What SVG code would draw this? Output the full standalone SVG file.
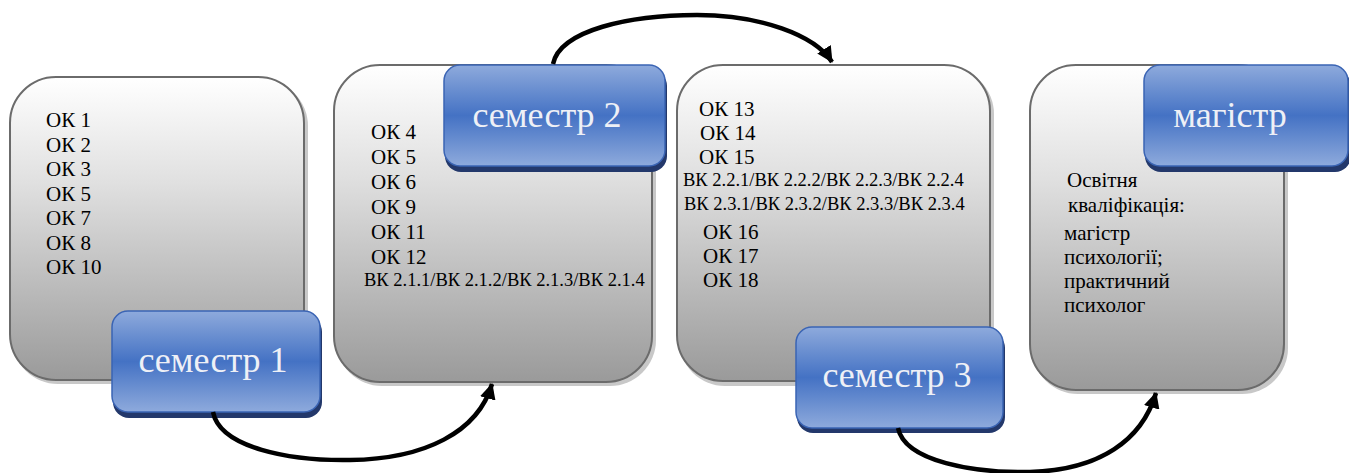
<svg xmlns="http://www.w3.org/2000/svg" width="1349" height="473" viewBox="0 0 1349 473">
<defs>
<linearGradient id="gBox" x1="0" y1="0" x2="0" y2="1">
<stop offset="0" stop-color="#ffffff"/>
<stop offset="0.35" stop-color="#e0e0e0"/>
<stop offset="1" stop-color="#9a9a9a"/>
</linearGradient>
<linearGradient id="gTab" x1="0" y1="0" x2="0" y2="1">
<stop offset="0" stop-color="#8eaadc"/>
<stop offset="0.5" stop-color="#4472c4"/>
<stop offset="1" stop-color="#8eaadc"/>
</linearGradient>
<marker id="arr" markerUnits="userSpaceOnUse" markerWidth="18" markerHeight="16" refX="15" refY="8" orient="auto">
<path d="M0,0 L16,8 L0,16 Z" fill="#000"/>
</marker>
</defs>
<style>
.box{fill:url(#gBox);stroke:#6b6b6b;stroke-width:2}
.bsh{fill:#c8c8c8}
.tab{fill:url(#gTab);stroke:#3a64b4;stroke-width:1.5}
.tsh{fill:#23386b}
.t{font-family:"Liberation Serif","Times New Roman",serif;font-size:21px;fill:#000}
.vk{font-family:"Liberation Serif","Times New Roman",serif;font-size:18.5px;fill:#000}
.tl{font-family:"Liberation Serif","Times New Roman",serif;font-size:36px;fill:#eef0f6;text-anchor:middle}
.con{fill:none;stroke:#000;stroke-width:4.5;marker-end:url(#arr)}
</style>

<g id="node-sem1">
<rect class="bsh" x="12" y="80" width="296" height="304" rx="46"/>
<rect class="box" x="10" y="77" width="294" height="303" rx="46"/>
<text class="t" x="46" y="127">ОК 1</text>
<text class="t" x="46" y="151.5">ОК 2</text>
<text class="t" x="46" y="176">ОК 3</text>
<text class="t" x="46" y="200.5">ОК 5</text>
<text class="t" x="46" y="225">ОК 7</text>
<text class="t" x="46" y="249.5">ОК 8</text>
<text class="t" x="46" y="274">ОК 10</text>
<rect class="tsh" x="113" y="316" width="209" height="102" rx="16"/>
<rect class="tab" x="112" y="311" width="208" height="101" rx="16"/>
<text class="tl" x="213" y="372">семестр 1</text>
</g>

<g id="node-sem2">
<rect class="bsh" x="336" y="68" width="320" height="318" rx="46"/>
<rect class="box" x="334" y="65" width="318" height="317" rx="46"/>
<text class="t" x="371" y="139">ОК 4</text>
<text class="t" x="371" y="164">ОК 5</text>
<text class="t" x="371" y="189">ОК 6</text>
<text class="t" x="371" y="214">ОК 9</text>
<text class="t" x="371" y="239">ОК 11</text>
<text class="t" x="371" y="264">ОК 12</text>
<text class="vk" x="364" y="286">ВК 2.1.1/ВК 2.1.2/ВК 2.1.3/ВК 2.1.4</text>
<rect class="tsh" x="445" y="70" width="222" height="102" rx="16"/>
<rect class="tab" x="444" y="65" width="221" height="101" rx="16"/>
<text class="tl" x="547" y="127">семестр 2</text>
</g>

<g id="node-sem3">
<rect class="bsh" x="679" y="68" width="315" height="318" rx="46"/>
<rect class="box" x="677" y="65" width="313" height="316" rx="46"/>
<text class="t" x="699" y="116">ОК 13</text>
<text class="t" x="700" y="140">ОК 14</text>
<text class="t" x="699" y="164">ОК 15</text>
<text class="vk" x="683" y="186">ВК 2.2.1/ВК 2.2.2/ВК 2.2.3/ВК 2.2.4</text>
<text class="vk" x="684" y="210">ВК 2.3.1/ВК 2.3.2/ВК 2.3.3/ВК 2.3.4</text>
<text class="t" x="703" y="239">ОК 16</text>
<text class="t" x="703" y="263">ОК 17</text>
<text class="t" x="703" y="287">ОК 18</text>
<rect class="tsh" x="797" y="332" width="208" height="101" rx="16"/>
<rect class="tab" x="796" y="327" width="207" height="101" rx="16"/>
<text class="tl" x="897" y="387">семестр 3</text>
</g>

<g id="node-master">
<rect class="bsh" x="1032" y="68" width="256" height="326" rx="46"/>
<rect class="box" x="1030" y="65" width="254" height="325" rx="46"/>
<text class="t" x="1067" y="187">Освітня</text>
<text class="t" x="1068" y="212">кваліфікація:</text>
<text class="t" x="1064" y="240">магістр</text>
<text class="t" x="1064" y="264">психології;</text>
<text class="t" x="1064" y="288">практичний</text>
<text class="t" x="1064" y="312">психолог</text>
<rect class="tsh" x="1145" y="70" width="206" height="102" rx="16"/>
<rect class="tab" x="1144" y="65" width="204" height="101" rx="16"/>
<text class="tl" x="1230" y="127">магістр</text>
</g>

<g id="connectors">
<path class="con" d="M213,412 C220,448 290,461 350,460 C425,459 478,432 492,384"/>
<path class="con" d="M553,64 C560,30 630,15 697,15 C760,15 815,35 832,62"/>
<path class="con" d="M898,428 C905,462 975,473 1030,472 C1100,470 1142,440 1156,393"/>
</g>
</svg>
